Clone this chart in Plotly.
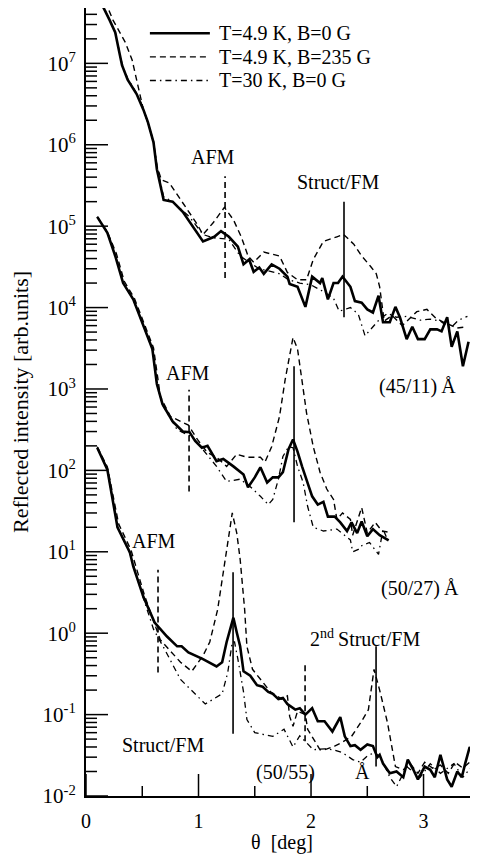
import math
import plotly.graph_objects as go

# ---------------- data: (45/11) A sample ----------------
g1_solid_x = [0.12, 0.15, 0.21, 0.26, 0.29, 0.32, 0.37, 0.45, 0.51, 0.55, 0.60, 0.63, 0.69, 0.77, 0.86, 0.95,
              1.04, 1.14, 1.20, 1.27, 1.35, 1.40, 1.45, 1.49, 1.54, 1.58, 1.65, 1.72, 1.79, 1.81, 1.88, 1.95,
              2.01, 2.08, 2.10, 2.15, 2.20, 2.24, 2.28, 2.35, 2.39, 2.45, 2.50, 2.55, 2.60, 2.64, 2.70, 2.75,
              2.79, 2.85, 2.90, 2.95, 3.01, 3.06, 3.12, 3.16, 3.21, 3.25, 3.30, 3.35, 3.40]
g1_solid_y = [9.0e7, 5.0e7, 3.4e7, 2.4e7, 1.5e7, 9.5e6, 6.3e6, 4.2e6, 2.7e6, 1.9e6, 1.07e6, 5.0e5, 2.1e5, 2.0e5, 1.5e5, 9.8e4,
              6.5e4, 7.4e4, 8.7e4, 7.4e4, 5.6e4, 3.4e4, 3.9e4, 2.75e4, 3.1e4, 2.6e4, 3.4e4, 3.0e4, 2.4e4, 1.95e4, 1.8e4, 1.02e4,
              2.4e4, 2.0e4, 2.3e4, 1.26e4, 2.0e4, 2.0e4, 2.4e4, 1.8e4, 1.2e4, 1.15e4, 9.5e3, 8.7e3, 1.4e4, 6.6e3, 6.6e3, 1.02e4,
              7.6e3, 4.1e3, 5.8e3, 4.1e3, 4.1e3, 5.4e3, 5.4e3, 5.1e3, 7.6e3, 3.3e3, 5.1e3, 1.9e3, 3.8e3]

g1_dash_x = [0.12, 0.19, 0.24, 0.35, 0.41, 0.45, 0.48, 0.51, 0.55, 0.60, 0.63, 0.67, 0.74, 0.86, 0.98, 1.04,
             1.13, 1.23, 1.31, 1.38, 1.44, 1.49, 1.58, 1.72, 1.79, 1.88, 1.96, 2.02, 2.11, 2.23, 2.29, 2.38,
             2.45, 2.53, 2.58, 2.61, 2.63, 2.65, 2.72, 2.81, 2.94, 3.03, 3.11, 3.18, 3.30, 3.38]
g1_dash_y = [1.0e8, 5.0e7, 3.4e7, 1.8e7, 1.1e7, 6.3e6, 3.9e6, 2.7e6, 1.9e6, 1.07e6, 5.5e5, 3.7e5, 3.4e5, 1.9e5, 1.1e5, 7.9e4,
             1.1e5, 1.7e5, 1.2e5, 7.4e4, 4.3e4, 3.6e4, 4.8e4, 4.3e4, 2.7e4, 2.2e4, 2.2e4, 3.9e4, 6.5e4, 7.4e4, 7.9e4, 6.0e4,
             4.3e4, 3.2e4, 2.6e4, 1.8e4, 1.02e4, 6.8e3, 8.0e3, 6.0e3, 8.9e3, 9.5e3, 7.4e3, 6.6e3, 5.6e3, 5.8e3]

g1_dd_x = [0.12, 0.15, 0.21, 0.26, 0.29, 0.32, 0.37, 0.45, 0.51, 0.55, 0.60, 0.63, 0.69, 0.77, 0.92, 1.04,
           1.13, 1.27, 1.37, 1.45, 1.54, 1.63, 1.72, 1.80, 1.90, 2.00, 2.10, 2.20, 2.25, 2.35, 2.42, 2.48,
           2.55, 2.61, 2.68, 2.76, 2.85, 2.97, 3.06, 3.15, 3.24, 3.31, 3.39]
g1_dd_y = [9.0e7, 5.2e7, 3.4e7, 2.4e7, 1.55e7, 1.0e7, 6.5e6, 4.3e6, 2.8e6, 1.9e6, 1.1e6, 5.5e5, 2.3e5, 2.0e5, 1.3e5, 7.9e4,
           7.2e4, 6.9e4, 4.3e4, 3.6e4, 3.0e4, 2.8e4, 2.6e4, 2.2e4, 2.0e4, 1.9e4, 1.6e4, 1.3e4, 9.0e3, 1.0e4, 8.3e3, 4.5e3,
           5.9e3, 7.2e3, 8.5e3, 7.6e3, 7.8e3, 7.0e3, 7.2e3, 6.8e3, 5.6e3, 7.0e3, 7.8e3]

# ---------------- data: (50/27) A sample ----------------
g2_solid_x = [0.10, 0.19, 0.26, 0.33, 0.42, 0.51, 0.59, 0.63, 0.68, 0.77, 0.86, 0.92, 0.97, 1.03, 1.08, 1.16,
              1.22, 1.31, 1.40, 1.44, 1.50, 1.55, 1.61, 1.66, 1.71, 1.75, 1.80, 1.84, 1.88, 1.92, 1.96, 2.01,
              2.06, 2.11, 2.15, 2.21, 2.26, 2.32, 2.36, 2.41, 2.45, 2.50, 2.55, 2.61, 2.69]
g2_solid_y = [1.3e5, 8.3e4, 4.3e4, 2.0e4, 1.26e4, 5.9e3, 3.1e3, 1.15e3, 650, 400, 300, 295, 230, 190, 200, 130,
              138, 112, 89, 62, 82, 109, 71, 82, 82, 95, 182, 240, 170, 112, 78, 48,
              38, 41, 27, 27, 23, 18, 23, 17, 23.5, 15.5, 19, 16, 13.8]

g2_dash_x = [0.10, 0.19, 0.27, 0.34, 0.43, 0.52, 0.60, 0.64, 0.66, 0.75, 0.91, 0.99, 1.08, 1.16, 1.25, 1.34,
             1.43, 1.55, 1.59, 1.65, 1.72, 1.77, 1.84, 1.88, 1.92, 1.96, 2.02, 2.08, 2.14, 2.20, 2.23, 2.28,
             2.35, 2.37, 2.45, 2.50, 2.57, 2.63, 2.68]
g2_dash_y = [1.3e5, 8.5e4, 4.6e4, 2.1e4, 1.3e4, 6.2e3, 3.2e3, 1.3e3, 810, 460, 360, 240, 165, 145, 112, 158,
             145, 145, 126, 195, 460, 1300, 4300, 3100, 1200, 510, 195, 95, 59, 44, 25, 30,
             25, 16, 35, 17, 23, 18, 17.5]

g2_dd_x = [0.10, 0.19, 0.26, 0.33, 0.42, 0.51, 0.59, 0.63, 0.68, 0.81, 0.95, 1.16, 1.25, 1.37, 1.46, 1.55,
           1.62, 1.66, 1.71, 1.75, 1.80, 1.84, 1.88, 1.93, 1.97, 2.02, 2.11, 2.23, 2.35, 2.37, 2.42, 2.44,
           2.52, 2.60, 2.64, 2.68]
g2_dd_y = [1.3e5, 8.3e4, 4.4e4, 2.0e4, 1.25e4, 5.9e3, 3.1e3, 1.15e3, 640, 316, 255, 112, 73, 78, 63, 48,
           38, 44, 78, 148, 195, 190, 112, 71, 36, 20, 18, 19, 14, 10, 10.7, 11.7,
           13, 9.3, 19, 14]

# ---------------- data: (50/55) A sample ----------------
g3_solid_x = [0.10, 0.19, 0.28, 0.39, 0.42, 0.51, 0.61, 0.66, 0.72, 0.81, 0.85, 0.91, 0.95, 1.04, 1.16, 1.21,
              1.25, 1.31, 1.34, 1.37, 1.40, 1.46, 1.52, 1.57, 1.62, 1.66, 1.71, 1.75, 1.79, 1.86, 1.90, 1.95,
              2.01, 2.06, 2.12, 2.19, 2.26, 2.30, 2.35, 2.39, 2.44, 2.50, 2.55, 2.59, 2.61, 2.64, 2.70, 2.76,
              2.82, 2.86, 2.91, 2.95, 3.01, 3.06, 3.10, 3.15, 3.21, 3.25, 3.30, 3.34, 3.37, 3.41, 3.46, 3.50]
g3_solid_y = [190, 102, 20, 9.8, 6.6, 2.8, 1.35, 1.12, 0.91, 0.69, 0.69, 0.58, 0.55, 0.48, 0.39, 0.44,
              0.78, 1.55, 1.02, 0.69, 0.34, 0.30, 0.23, 0.22, 0.19, 0.18, 0.155, 0.16, 0.135, 0.115, 0.12, 0.10,
              0.12, 0.083, 0.083, 0.062, 0.093, 0.054, 0.041, 0.042, 0.037, 0.043, 0.041, 0.030, 0.032, 0.025, 0.019, 0.020,
              0.017, 0.028, 0.021, 0.016, 0.023, 0.021, 0.017, 0.032, 0.016, 0.013, 0.020, 0.017, 0.025, 0.040, 0.031, 0.030]

g3_dash_x = [0.10, 0.19, 0.29, 0.40, 0.52, 0.60, 0.66, 0.84, 0.94, 1.04, 1.10, 1.17, 1.24, 1.30, 1.34, 1.37,
             1.41, 1.43, 1.48, 1.55, 1.64, 1.74, 1.79, 1.81, 1.84, 1.88, 1.95, 1.97, 2.02, 2.08, 2.12, 2.21,
             2.28, 2.36, 2.45, 2.51, 2.56, 2.61, 2.68, 2.72, 2.75, 2.82, 2.88, 2.95, 3.01, 3.08, 3.15, 3.22,
             3.28, 3.35, 3.41, 3.48]
g3_dash_y = [195, 110, 22, 10.5, 2.9, 1.45, 0.83, 0.44, 0.34, 0.53, 0.78, 1.95, 8.1, 30, 17, 8.1,
             1.95, 0.69, 0.36, 0.27, 0.19, 0.155, 0.17, 0.095, 0.072, 0.11, 0.10, 0.066, 0.050, 0.037, 0.037, 0.041,
             0.046, 0.054, 0.083, 0.115, 0.36, 0.20, 0.079, 0.037, 0.023, 0.021, 0.025, 0.019, 0.026, 0.022, 0.024, 0.019,
             0.026, 0.022, 0.026, 0.021]

g3_dd_x = [0.10, 0.19, 0.28, 0.39, 0.51, 0.60, 0.70, 0.84, 0.92, 1.06, 1.21, 1.26, 1.30, 1.32, 1.35, 1.40,
           1.43, 1.50, 1.66, 1.76, 1.84, 1.90, 2.02, 2.12, 2.20, 2.28, 2.37, 2.44, 2.50, 2.56, 2.62, 2.70,
           2.76, 2.85, 2.97, 3.06, 3.15, 3.27, 3.35, 3.44]
g3_dd_y = [190, 102, 20, 9.6, 2.7, 1.12, 0.63, 0.27, 0.21, 0.135, 0.18, 0.33, 0.78, 0.78, 0.48, 0.19,
           0.087, 0.060, 0.054, 0.066, 0.040, 0.055, 0.037, 0.038, 0.037, 0.034, 0.028, 0.026, 0.031, 0.034, 0.030, 0.017,
           0.013, 0.023, 0.017, 0.025, 0.019, 0.025, 0.017, 0.024]

# peak marker lines: (theta, y_low, y_high)
afm_marks = [(1.236, 2.3e4, 4.1e5), (0.916, 55, 980), (0.64, 0.33, 6.0), (1.947, 0.047, 0.42)]
struct_marks = [(2.293, 7.6e3, 2.0e5), (1.849, 23, 1.9e3), (1.307, 0.058, 5.6), (2.578, 0.023, 0.69)]

legend_names = ["T=4.9 K, B=0 G", "T=4.9 K, B=235 G", "T=30 K, B=0 G"]
y_exponents = [-2, -1, 0, 1, 2, 3, 4, 5, 6, 7]
x_major = [0, 1, 2, 3]
x_minor = [0.5, 1.5, 2.5]

FONT = "Liberation Serif, Times New Roman, serif"
BLACK = "black"
X_RANGE = [0, 3.484]
Y_RANGE = [-2, 7.68]
FIG_W, FIG_H = 470, 846
M_L, M_R, M_T, M_B = 78, 0, 0, 58

fig = go.Figure()

groups = [
    (g1_solid_x, g1_solid_y, g1_dash_x, g1_dash_y, g1_dd_x, g1_dd_y),
    (g2_solid_x, g2_solid_y, g2_dash_x, g2_dash_y, g2_dd_x, g2_dd_y),
    (g3_solid_x, g3_solid_y, g3_dash_x, g3_dash_y, g3_dd_x, g3_dd_y),
]
styles = [
    dict(width=2.6, dash="solid"),
    dict(width=1.4, dash="6px,4px"),
    dict(width=1.3, dash="6px,4px,1.5px,4px"),
]
for gi, g in enumerate(groups):
    for si in range(3):
        fig.add_trace(go.Scatter(
            x=g[2 * si], y=g[2 * si + 1], mode="lines",
            line=dict(color=BLACK, **styles[si]),
            name=legend_names[si], showlegend=False,
            hoverinfo="skip"))

for (xm, ylo, yhi) in afm_marks:
    fig.add_trace(go.Scatter(x=[xm, xm], y=[ylo, yhi], mode="lines",
                             line=dict(color=BLACK, width=1.6, dash="6px,4px"),
                             showlegend=False, hoverinfo="skip"))
for (xm, ylo, yhi) in struct_marks:
    fig.add_trace(go.Scatter(x=[xm, xm], y=[ylo, yhi], mode="lines",
                             line=dict(color=BLACK, width=1.6),
                             showlegend=False, hoverinfo="skip"))

# inward tick marks, drawn as line segments on the axes' own scales
px_per_x = (FIG_W - M_L - M_R) / (X_RANGE[1] - X_RANGE[0])
px_per_dec = (FIG_H - M_T - M_B) / (Y_RANGE[1] - Y_RANGE[0])


def y_tick_segments(length_px, factors):
    xs, ys = [], []
    for e in y_exponents:
        for k in factors:
            v = k * 10.0 ** e
            if Y_RANGE[0] <= math.log10(v) <= Y_RANGE[1]:
                xs += [X_RANGE[0], X_RANGE[0] + length_px / px_per_x, None]
                ys += [v, v, None]
    return xs, ys


def x_tick_segments(length_px, vals):
    xs, ys = [], []
    y0 = 10.0 ** Y_RANGE[0]
    y1 = 10.0 ** (Y_RANGE[0] + length_px / px_per_dec)
    for v in vals:
        xs += [v, v, None]
        ys += [y0, y1, None]
    return xs, ys


for (xs, ys) in [y_tick_segments(22, [1]), y_tick_segments(11, range(2, 10)),
                 x_tick_segments(22, x_major), x_tick_segments(10, x_minor)]:
    fig.add_trace(go.Scatter(x=xs, y=ys, mode="lines", line=dict(color=BLACK, width=1.5),
                             showlegend=False, hoverinfo="skip", cliponaxis=False))

# legend drawn by hand (compact row spacing like the original)
leg_rows = [0.968, 0.938, 0.908]
for name, st, yy in zip(legend_names, styles, leg_rows):
    fig.add_shape(type="line", xref="paper", yref="paper", x0=0.163, x1=0.316, y0=yy, y1=yy,
                  line=dict(color=BLACK, **st))
    fig.add_annotation(xref="paper", yref="paper", x=0.335, y=yy, text=name, showarrow=False,
                       xanchor="left", yanchor="middle",
                       font=dict(family=FONT, size=20, color=BLACK))

labels = [
    ("AFM", 1.13, 5.85), ("Struct/FM", 2.24, 5.54),
    ("AFM", 0.907, 3.20), ("(45/11)\u2009Å", 2.95, 3.03),
    ("AFM", 0.60, 1.13), ("(50/27)\u2009Å", 2.97, 0.55),
    ("2<sup>nd</sup>\u2009Struct/FM", 2.48, -0.06),
    ("Struct/FM", 0.684, -1.37), ("(50/55)", 1.77, -1.71), ("Å", 2.46, -1.71),
]
for txt, lx, ly in labels:
    fig.add_annotation(x=lx, y=ly, text=txt, showarrow=False,
                       font=dict(family=FONT, size=20, color=BLACK),
                       xanchor="center", yanchor="middle")

fig.update_layout(
    width=FIG_W, height=FIG_H,
    margin=dict(l=M_L, r=M_R, t=M_T, b=M_B),
    paper_bgcolor="white", plot_bgcolor="white",
    font=dict(family=FONT, size=20, color=BLACK),
    showlegend=False,
    xaxis=dict(range=X_RANGE, showline=True, linewidth=2, linecolor=BLACK, mirror=True,
               automargin=False,
               ticks="", tickmode="array", tickvals=x_major, ticktext=[str(v) for v in x_major],
               tickfont=dict(family=FONT, size=20, color=BLACK), ticklabelstandoff=6,
               showgrid=False, zeroline=False,
               title=dict(text="\u03b8  [deg]", font=dict(family=FONT, size=20, color=BLACK), standoff=12)),
    yaxis=dict(type="log", range=Y_RANGE, showline=True, linewidth=2, linecolor=BLACK, mirror=False,
               automargin=False,
               ticks="", tickmode="array", tickvals=[10.0 ** e for e in y_exponents],
               ticktext=[f"10<sup>{e}</sup>" for e in y_exponents],
               tickfont=dict(family=FONT, size=21, color=BLACK), ticklabelstandoff=4,
               showgrid=False, zeroline=False,
               title=dict(text="Reflected intensity [arb.units]",
                          font=dict(family=FONT, size=22, color=BLACK), standoff=11)),
)

fig.write_html("out.html")
